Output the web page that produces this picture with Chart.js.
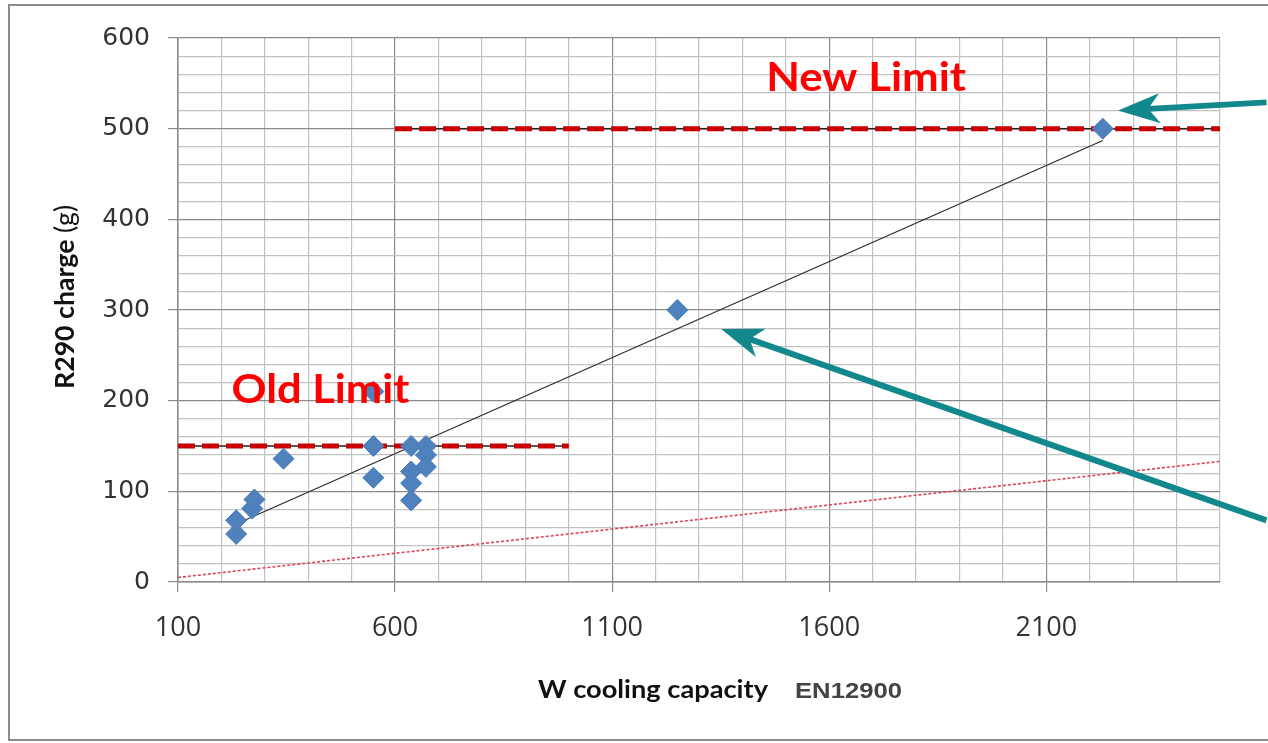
<!DOCTYPE html>
<html>
<head>
<meta charset="utf-8">
<title>R290 charge vs cooling capacity</title>
<script src="https://cdn.jsdelivr.net/npm/chart.js@4.4.1/dist/chart.umd.min.js"></script>
<style>
  html, body { margin: 0; padding: 0; background: #fff; }
  #wrap { width: 1268px; height: 743px; position: relative; }
</style>
</head>
<body>
<div id="wrap"><canvas id="chargeChart"></canvas></div>
<script>
// measured appliances: cooling capacity (W) and R290 charge (g)
var capacityW = [234, 234, 271, 276, 343, 550, 550, 550, 637, 637, 637, 637, 671, 671, 671, 1250, 2230];
var chargeG   = [53, 68, 81, 91, 136, 210, 150, 115, 150, 122, 109, 90, 150, 140, 127, 300, 500];

// fitted trend line
var trendW = [234, 2230];
var trendG = [64, 487];

// lower dotted reference line
var lowerW = [100, 2500];
var lowerG = [5, 133];

// charge limits
var oldLimitW = [100, 1000];
var oldLimitG = [150, 150];
var newLimitW = [600, 2500];
var newLimitG = [500, 500];

// labelled ticks
var xTickLabels = [100, 600, 1100, 1600, 2100];
var yTickLabels = [0, 100, 200, 300, 400, 500, 600];

var teal = '#12888c';
var limitRed = '#c80000';

function pts(xs, ys) {
    return xs.map(function (x, i) { return { x: x, y: ys[i] }; });
}

function fitText(ctx, text, font, x, y, width, align) {
    ctx.font = font;
    var s = width / ctx.measureText(text).width;
    ctx.save();
    ctx.translate(x, y);
    ctx.scale(s, 1);
    ctx.textAlign = align;
    ctx.textBaseline = 'alphabetic';
    ctx.fillText(text, 0, 0);
    ctx.restore();
}

function drawArrow(ctx, x1, y1, x2, y2) {
    var a = Math.atan2(y2 - y1, x2 - x1);
    var c = Math.cos(a), s = Math.sin(a);
    var len = 42, half = 15;
    var bx = x2 - len * c, by = y2 - len * s;
    var nx = x2 - len * 0.72 * c, ny = y2 - len * 0.72 * s;
    ctx.save();
    ctx.strokeStyle = teal;
    ctx.fillStyle = teal;
    ctx.lineWidth = 6;
    ctx.beginPath();
    ctx.moveTo(x1, y1);
    ctx.lineTo(nx, ny);
    ctx.stroke();
    ctx.beginPath();
    ctx.moveTo(x2, y2);
    ctx.lineTo(bx - half * s, by + half * c);
    ctx.lineTo(nx, ny);
    ctx.lineTo(bx + half * s, by - half * c);
    ctx.closePath();
    ctx.fill();
    ctx.restore();
}

var decorations = {
    id: 'decorations',
    beforeDraw: function (chart) {
        var ctx = chart.ctx;
        ctx.save();
        ctx.fillStyle = '#fff';
        ctx.fillRect(0, 0, chart.width, chart.height);
        ctx.strokeStyle = '#8c8c8c';
        ctx.lineWidth = 2;
        ctx.strokeRect(9, 5, 1300, 735);
        ctx.restore();
    },
    afterDatasetsDraw: function (chart) {
        var ctx = chart.ctx,
            xs = chart.scales.x,
            ys = chart.scales.y;
        ctx.save();
        ctx.fillStyle = '#ff0000';
        fitText(ctx, 'New Limit', 'bold 41px Lato', xs.getPixelForValue(1685), ys.getPixelForValue(541), 200, 'center');
        fitText(ctx, 'Old Limit', 'bold 41px Lato', xs.getPixelForValue(428), ys.getPixelForValue(197), 178, 'center');
        ctx.restore();
        drawArrow(ctx, xs.getPixelForValue(2607), ys.getPixelForValue(529),
                       xs.getPixelForValue(2265), ys.getPixelForValue(520));
        drawArrow(ctx, xs.getPixelForValue(2607), ys.getPixelForValue(68),
                       xs.getPixelForValue(1351), ys.getPixelForValue(279));
    },
    afterDraw: function (chart) {
        var ctx = chart.ctx;
        // y axis title, bold part + plain unit, fitted to the reference length
        ctx.save();
        ctx.translate(74, 389);
        ctx.rotate(-Math.PI / 2);
        ctx.font = 'bold 26px Lato';
        var wBold = ctx.measureText('R290 charge ').width;
        ctx.font = '26px Lato';
        var wUnit = ctx.measureText('(g)').width;
        ctx.scale(184 / (wBold + wUnit), 1);
        ctx.fillStyle = '#111';
        ctx.textAlign = 'left';
        ctx.textBaseline = 'alphabetic';
        ctx.font = 'bold 26px Lato';
        ctx.fillText('R290 charge', 0, 0);
        ctx.font = '26px Lato';
        ctx.fillText('(g)', wBold, 0);
        ctx.restore();

        // x axis title
        ctx.save();
        ctx.fillStyle = '#111';
        fitText(ctx, 'W cooling capacity', 'bold 25px Lato', 538, 698, 230, 'left');
        ctx.fillStyle = '#444';
        fitText(ctx, 'EN12900', 'bold 22px "Liberation Sans"', 795, 698, 107, 'left');
        ctx.restore();
    }
};

function isMajorX(v) { return xTickLabels.indexOf(v) !== -1; }
function isMajorY(v) { return yTickLabels.indexOf(v) !== -1; }

var chargeChart = new Chart(document.getElementById('chargeChart'), {
    type: 'scatter',
    data: {
        datasets: [
            {
                label: 'Appliances',
                data: pts(capacityW, chargeG),
                pointStyle: 'rectRot',
                pointRadius: 10.5,
                pointBackgroundColor: '#4f81bd',
                pointBorderColor: '#4a7bb7',
                pointBorderWidth: 1,
                order: 0
            },
            {
                label: 'Trend',
                data: pts(trendW, trendG),
                showLine: true,
                borderColor: '#2b2b2b',
                borderWidth: 1.2,
                pointRadius: 0,
                order: 1
            },
            {
                label: 'Old limit',
                data: pts(oldLimitW, oldLimitG),
                showLine: true,
                borderColor: limitRed,
                borderWidth: 5,
                borderDash: [17, 7],
                pointRadius: 0,
                order: 2
            },
            {
                label: 'Old limit base',
                data: pts(oldLimitW, oldLimitG),
                showLine: true,
                borderColor: '#222',
                borderWidth: 1.5,
                pointRadius: 0,
                order: 3
            },
            {
                label: 'New limit',
                data: pts(newLimitW, newLimitG),
                showLine: true,
                borderColor: limitRed,
                borderWidth: 5,
                borderDash: [17, 7],
                pointRadius: 0,
                order: 2
            },
            {
                label: 'New limit base',
                data: pts(newLimitW, newLimitG),
                showLine: true,
                borderColor: '#222',
                borderWidth: 1.5,
                pointRadius: 0,
                order: 3
            },
            {
                label: 'Lower line',
                data: pts(lowerW, lowerG),
                showLine: true,
                borderColor: '#e0405a',
                borderWidth: 1.6,
                borderDash: [3, 2],
                pointRadius: 0,
                order: 4
            }
        ]
    },
    options: {
        responsive: true,
        maintainAspectRatio: false,
        animation: false,
        events: [],
        layout: { padding: { top: 38, right: 48, left: 0, bottom: 0 } },
        plugins: {
            legend: { display: false },
            tooltip: { enabled: false }
        },
        scales: {
            x: {
                type: 'linear',
                min: 100,
                max: 2500,
                afterFit: function (s) { s.height = 161; },
                border: { color: '#888', width: 1.5 },
                grid: {
                    color: function (c) { return c.tick && isMajorX(c.tick.value) ? '#8a8a8a' : '#c2c2c2'; },
                    tickColor: function (c) { return c.tick && isMajorX(c.tick.value) ? '#8a8a8a' : 'rgba(0,0,0,0)'; },
                    tickLength: 10,
                    lineWidth: 1.2
                },
                ticks: {
                    stepSize: 100,
                    maxTicksLimit: 100,
                    autoSkip: false,
                    maxRotation: 0,
                    padding: 20,
                    color: '#333',
                    font: { family: 'Open Sans', size: 27 },
                    callback: function (v) { return isMajorX(v) ? String(v) : ''; }
                }
            },
            y: {
                type: 'linear',
                min: 0,
                max: 600,
                afterFit: function (s) { s.width = 178; },
                border: { color: '#888', width: 1.5 },
                grid: {
                    color: function (c) { return c.tick && isMajorY(c.tick.value) ? '#8a8a8a' : '#c2c2c2'; },
                    tickColor: function (c) { return c.tick && isMajorY(c.tick.value) ? '#8a8a8a' : 'rgba(0,0,0,0)'; },
                    tickLength: 10,
                    lineWidth: 1.2
                },
                ticks: {
                    stepSize: 20,
                    maxTicksLimit: 100,
                    autoSkip: false,
                    padding: 18,
                    color: '#333',
                    font: { family: 'DejaVu Sans', size: 25 },
                    callback: function (v) { return isMajorY(v) ? String(v) : ''; }
                }
            }
        }
    },
    plugins: [decorations]
});
</script>
</body>
</html>
